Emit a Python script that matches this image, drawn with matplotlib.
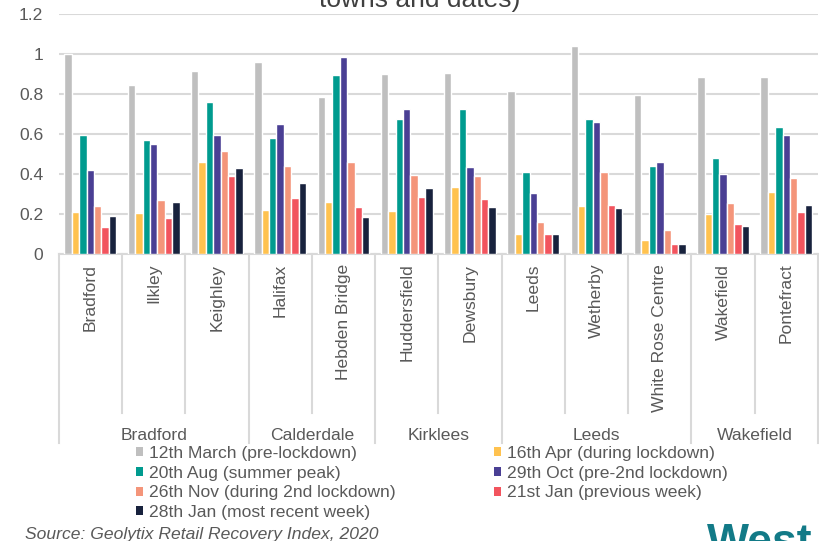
import numpy as np
import matplotlib.pyplot as plt
from matplotlib.patches import Patch
from matplotlib.transforms import blended_transform_factory

plt.rcParams['font.family'] = ['Liberation Sans', 'DejaVu Sans']

towns = ["Bradford", "Ilkley", "Keighley", "Halifax", "Hebden Bridge",
         "Huddersfield", "Dewsbury", "Leeds", "Wetherby", "White Rose Centre",
         "Wakefield", "Pontefract"]
districts = ["Bradford", "Calderdale", "Kirklees", "Leeds", "Wakefield"]
district_sizes = [3, 2, 2, 3, 2]

series_names = ["12th March (pre-lockdown)", "16th Apr (during lockdown)",
                "20th Aug (summer peak)", "29th Oct (pre-2nd lockdown)",
                "26th Nov (during 2nd lockdown)", "21st Jan (previous week)",
                "28th Jan (most recent week)"]
series_colors = ["#BFBFBF", "#FFC24F", "#009B8F", "#4A3F94",
                 "#F4957A", "#F2545E", "#18223D"]

mar12 = [1.00, 0.843, 0.917, 0.96, 0.783, 0.898, 0.907, 0.815, 1.042, 0.797, 0.883, 0.883]
apr16 = [0.21, 0.205, 0.46, 0.218, 0.26, 0.215, 0.333, 0.098, 0.24, 0.07, 0.20, 0.31]
aug20 = [0.593, 0.57, 0.76, 0.58, 0.893, 0.677, 0.723, 0.408, 0.673, 0.44, 0.482, 0.635]
oct29 = [0.418, 0.548, 0.595, 0.648, 0.983, 0.723, 0.437, 0.303, 0.658, 0.458, 0.40, 0.595]
nov26 = [0.242, 0.27, 0.515, 0.442, 0.46, 0.395, 0.39, 0.158, 0.408, 0.118, 0.255, 0.38]
jan21 = [0.135, 0.182, 0.392, 0.278, 0.237, 0.283, 0.273, 0.098, 0.247, 0.052, 0.148, 0.208]
jan28 = [0.192, 0.262, 0.432, 0.355, 0.185, 0.328, 0.233, 0.098, 0.228, 0.052, 0.14, 0.247]
all_series = [mar12, apr16, aug20, oct29, nov26, jan21, jan28]

txt = "#595959"
grid = "#D9D9D9"
fs = 12.6

fig = plt.figure(figsize=(8.19, 5.41), dpi=100)
ax = fig.add_axes([58.7 / 819, 1 - 254 / 541, (818 - 58.7) / 819, 240 / 541])

x = np.arange(len(towns))
slot = 0.117
for i, (vals, col) in enumerate(zip(all_series, series_colors)):
    ax.bar(x + (i - 3) * slot, vals, width=slot, color=col,
           edgecolor="white", linewidth=1.0, zorder=3)

ax.set_xlim(-0.5, len(towns) - 0.5)
ax.set_ylim(0, 1.2)
ax.set_yticks(np.arange(0, 1.21, 0.2))
ax.set_yticklabels(["0", "0.2", "0.4", "0.6", "0.8", "1", "1.2"])
ax.yaxis.grid(True, color=grid, linewidth=1.5, zorder=0)
for s in ["top", "right", "left"]:
    ax.spines[s].set_visible(False)
ax.spines["bottom"].set_color(grid)
ax.spines["bottom"].set_linewidth(1.5)
ax.tick_params(axis="y", length=0, labelsize=fs, labelcolor=txt, pad=11)

ax.set_xticks(x)
ax.set_xticklabels(towns, rotation=90, fontsize=fs, color=txt, va="top")
ax.tick_params(axis="x", length=0, pad=7)

# category separators below the axis: short ones between towns, long ones between districts
trans = blended_transform_factory(ax.transData, ax.transAxes)
bounds = np.cumsum([0] + district_sizes) - 0.5
for b in np.arange(-0.5, len(towns)):
    low = -0.7875 if b in bounds else -0.6625
    ax.plot([b, b], [0, low], color=grid, linewidth=1.5, transform=trans,
            clip_on=False, zorder=1)
for name, a, c in zip(districts, bounds[:-1], bounds[1:]):
    ax.text((a + c) / 2, -0.755, name, transform=trans, ha="center", va="center",
            fontsize=fs, color=txt)

handles = [Patch(facecolor=c, edgecolor="none") for c in series_colors]
leg_kw = dict(frameon=False, fontsize=fs, labelcolor=txt, handlelength=0.42,
              handleheight=0.42, handletextpad=0.3, labelspacing=0.27,
              borderpad=0, borderaxespad=0, loc="upper left")
fig.legend([handles[i] for i in (0, 2, 4, 6)], [series_names[i] for i in (0, 2, 4, 6)],
           bbox_to_anchor=(136 / 819, 1 - 446 / 541), **leg_kw)
fig.legend([handles[i] for i in (1, 3, 5)], [series_names[i] for i in (1, 3, 5)],
           bbox_to_anchor=(494 / 819, 1 - 446 / 541), **leg_kw)

fig.text(420 / 819, 1 - 7 / 541, "towns and dates)", ha="center", va="baseline",
         fontsize=19, color="#404040")
fig.text(25 / 819, 1 - 539 / 541, "Source: Geolytix Retail Recovery Index, 2020",
         ha="left", va="baseline", fontsize=fs, style="italic", color=txt)
fig.text(707 / 819, 1 - 555 / 541, "West", ha="left", va="baseline",
         fontsize=32, fontweight="bold", color="#127A87")

fig.savefig("out.png", dpi=100)
